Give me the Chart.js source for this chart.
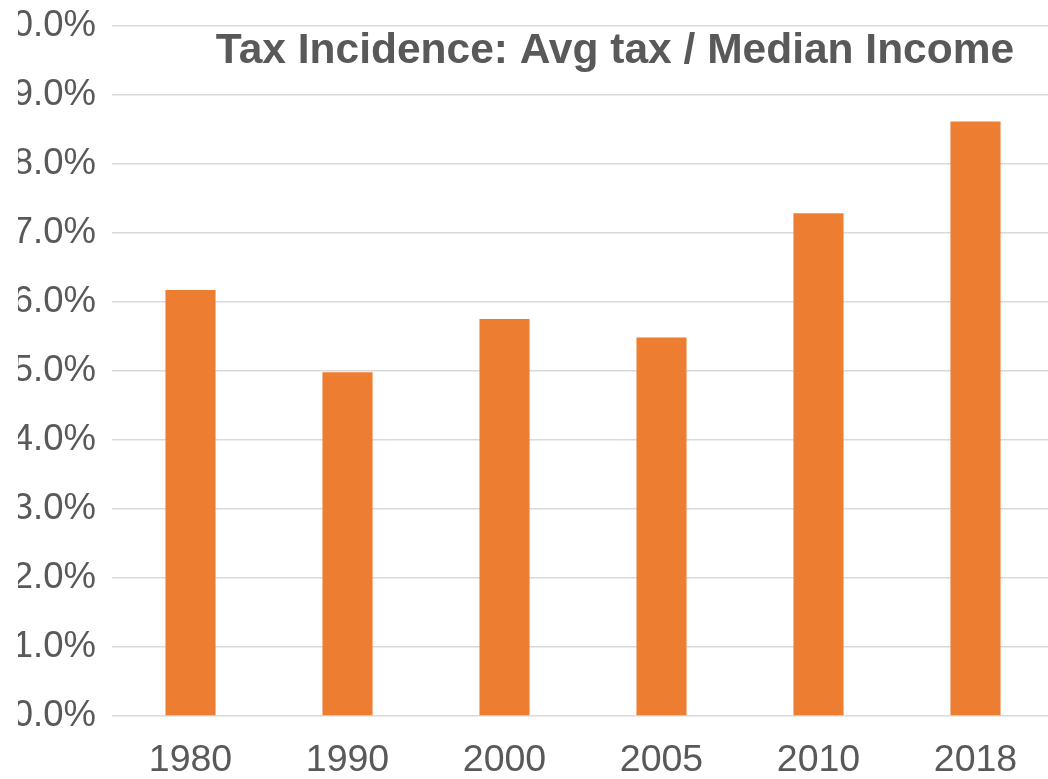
<!DOCTYPE html>
<html lang="en">
<head>
   <meta charset="UTF-8">
   <title>Tax Incidence</title>
   <script src="https://cdn.jsdelivr.net/npm/chart.js"></script>
   <style>
       body { margin: 0; background: #fff; overflow: hidden; }
       #wrap { position: absolute; left: 18px; top: 0; width: 1030px; height: 779px; overflow: hidden; }
       #myChart { position: absolute; left: -23px; top: 0; }
   </style>
</head>
<body>
   <div id="wrap"><canvas id="myChart" width="1060" height="786"></canvas></div>
   <script>
       var years = ['1980', '1990', '2000', '2005', '2010', '2018'];
       var incidence = [6.17, 4.98, 5.75, 5.48, 7.28, 8.61];
       var titleText = 'Tax Incidence: Avg tax / Median Income';

       const ctx = document.getElementById('myChart');
       const font = "'Liberation Sans', Arial, sans-serif";

       // title sits inside the plot, like the original
       const titleInside = {
           id: 'titleInside',
           afterDraw(chart) {
               const c = chart.ctx;
               c.save();
               c.font = 'bold 42.5px ' + font;
               c.fillStyle = '#595959';
               c.textAlign = 'center';
               c.textBaseline = 'alphabetic';
               c.fillText(titleText, 620, 62.5);
               c.restore();
           }
       };

       new Chart(ctx, {
           type: 'bar',
           data: {
               labels: years,
               datasets: [{
                   data: incidence,
                   backgroundColor: '#ED7D31',
                   borderWidth: 0,
                   categoryPercentage: 1,
                   barPercentage: 0.319
               }]
           },
           options: {
               responsive: false,
               animation: false,
               layout: { padding: { top: 25.5, left: 0, right: 1, bottom: 0 } },
               plugins: {
                   legend: { display: false },
                   tooltip: { enabled: false }
               },
               scales: {
                   x: {
                       grid: { display: false, drawTicks: false },
                       border: { display: false },
                       ticks: {
                           color: '#595959',
                           font: { family: font, size: 37.5 },
                           padding: 22,
                           maxRotation: 0
                       },
                       afterFit: (s) => {
                           s.height = 70;
                           s.paddingLeft = 0;
                           s.paddingRight = 0;
                       }
                   },
                   y: {
                       min: 0,
                       max: 10,
                       grid: { color: '#d9d9d9', lineWidth: 1.5, drawTicks: false },
                       border: { display: false },
                       ticks: {
                           stepSize: 1,
                           color: '#595959',
                           font: { family: font, size: 36.5 },
                           padding: 16,
                           callback: (v) => v.toFixed(1) + '%'
                       },
                       afterFit: (s) => {
                           s.width = 117;
                           s.paddingTop = 0;
                           s.paddingBottom = 0;
                       }
                   }
               }
           },
           plugins: [titleInside]
       });
   </script>
</body>
</html>
